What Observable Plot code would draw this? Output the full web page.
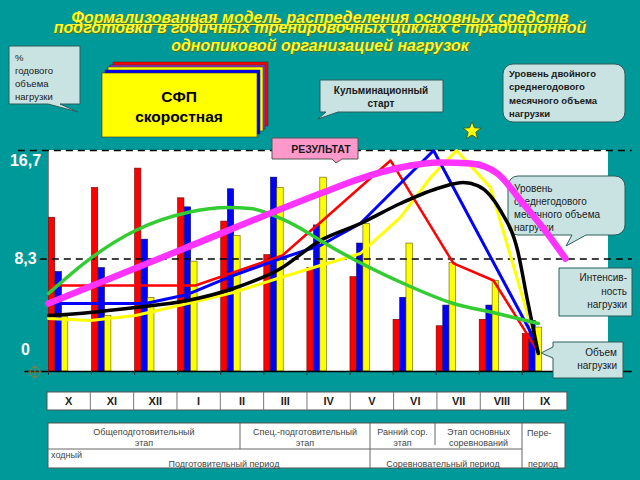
<!DOCTYPE html>
<html><head><meta charset="utf-8">
<script src="https://cdn.jsdelivr.net/npm/d3@7"></script>
<script src="https://cdn.jsdelivr.net/npm/@observablehq/plot@0.6"></script>
<style>
body{margin:0;background:#009999;}
#root{position:relative;width:640px;height:480px;background:#009999;overflow:hidden;font-family:"Liberation Sans",Arial,sans-serif;}
.abs{position:absolute;left:0;top:0;}
.ttl{position:absolute;left:0;width:640px;text-align:center;font-weight:bold;font-style:italic;font-size:16px;line-height:18px;color:#ffff33;text-shadow:1px 1px 0 #5f6f00;white-space:nowrap;}
</style></head><body>
<div id="root">
  <div id="plotbg" style="position:absolute;background:#fff;"></div>
  <svg id="under" class="abs" width="640" height="480"></svg>
  <div id="chart" class="abs"></div>
  <svg id="over" class="abs" width="640" height="480"></svg>
  <div class="ttl" style="top:9px;text-decoration:underline;">Формализованная модель распределения основных средств</div>
  <div class="ttl" style="top:19px;">подготовки в годичных тренировочных циклах с традиционной</div>
  <div class="ttl" style="top:37px;">однопиковой организацией нагрузок</div>
</div>
<script>
// ---------- data ----------
const months = ["X","XI","XII","I","II","III","IV","V","VI","VII","VIII","IX"];
const redBars    = [11.5, 13.8, 15.3, 13.0, 11.2, 8.6, 7.6, 6.9, 3.6, 3.1, 3.6, 2.5];
const blueBars   = [7.3, 7.6, 9.8, 12.3, 13.7, 14.6, 10.9, 9.5, 5.3, 4.7, 4.7, 3.5];
const yellowBars = [3.8, 3.9, 5.3, 8.1, 10.1, 13.8, 14.6, 11.0, 9.5, 8.0, 6.6, 3.0];

const redLineX = [0.15, 3.41, 4.29, 5.43, 6.01, 6.31, 7.94, 9.40, 10.33, 11.35];
const redLineY = [6.25, 6.25, 7.26, 8.58, 10.28, 11.13, 15.93, 7.96, 6.64, 1.22];
const blueLineX = [0.16, 2.25, 3.23, 4.29, 5.39, 6.31, 7.24, 8.17, 8.94, 11.26, 11.37];
const blueLineY = [4.86, 4.86, 5.56, 7.03, 8.34, 9.35, 11.05, 14.15, 16.7, 2.23, 1.07];
const yellowLineX = [0, 0.97, 2.02, 3.23, 4.29, 5.39, 6.31, 7.24, 8.17, 8.87, 9.47, 10.26, 11.30];
const yellowLineY = [3.70, 3.55, 3.93, 4.86, 5.71, 6.87, 7.80, 8.73, 11.52, 14.61, 16.7, 13.84, 2.0];
const blackLineX = [0, 0.97, 2.02, 3.23, 4.29, 5.39, 6.31, 7.24, 8.17, 9.10, 9.63, 9.96, 10.49, 10.89, 11.12, 11.37];
const blackLineY = [3.93, 4.17, 4.55, 5.09, 6.02, 7.57, 9.74, 11.05, 12.60, 13.84, 14.22, 13.99, 12.06, 8.96, 5.09, 0.99];
const greenLineX = [0, 0.97, 2.02, 3.23, 4.16, 4.69, 5.39, 6.01, 6.31, 8.24, 9.40, 10.42, 11.37];
const greenLineY = [5.64, 8.34, 10.51, 11.90, 12.29, 12.21, 11.44, 10.36, 9.74, 6.41, 4.86, 4.09, 3.31];
const magentaLineX = [0, 3.15, 6.31, 7.24, 8.17, 9.10, 9.80, 10.42, 10.96, 11.58, 12.0];
const magentaLineY = [4.86, 9.12, 13.37, 14.53, 15.38, 15.77, 15.69, 14.92, 12.83, 10.28, 8.34];

const yTicks = [16.7, 8.3, 0];
const yTickLabels = ["16,7", "8,3", "0"];
const refLevels = [16.7, 8.3];

const stages = [
  ["Общеподготовительный", "этап"],
  ["Спец.-подготовительный", "этап"],
  ["Ранний сор.", "этап"],
  ["Этап основных", "соревнований"]
];
const periods = ["Подготовительный  период", "Соревновательный период", "период"];

// ---------- layout ----------
const W = 640, H = 480;
const M = {left: 48, right: 32, top: 150, bottom: 109};
const Y_MIN = -0.4, Y_MAX = 16.7;
const pb = document.getElementById("plotbg");
Object.assign(pb.style, {left: M.left + "px", top: M.top + "px", width: (W - M.left - M.right) + "px", height: (H - M.top - M.bottom) + "px"});

const rows = months.map((m, i) => ({i, m, red: redBars[i], blue: blueBars[i], yellow: yellowBars[i]}));
const pts = (xs, ys) => xs.map((x, k) => ({x, y: ys[k]}));

const bars = [
  {key: "red", fill: "#ff0000", stroke: "#6a0000", o0: 0.01, o1: 0.155},
  {key: "blue", fill: "#0000ff", stroke: "#00005a", o0: 0.165, o1: 0.31},
  {key: "yellow", fill: "#ffff00", stroke: "#5a5a00", o0: 0.31, o1: 0.46}
];
const lines = [
  {p: pts(yellowLineX, yellowLineY), stroke: "#ffff00", w: 3, curve: "linear"},
  {p: pts(redLineX, redLineY), stroke: "#ff0000", w: 2.5, curve: "linear"},
  {p: pts(blueLineX, blueLineY), stroke: "#0000ff", w: 3, curve: "linear"},
  {p: pts(blackLineX, blackLineY), stroke: "#000000", w: 3.5, curve: "monotone-x"},
  {p: pts(greenLineX, greenLineY), stroke: "#33cc33", w: 3.5, curve: "monotone-x"},
  {p: pts(magentaLineX, magentaLineY), stroke: "#ff33ff", w: 6.5, curve: "monotone-x"}
];
const labelDy = [10, 0, -16];

const chart = Plot.plot({
  width: W, height: H,
  marginLeft: M.left, marginRight: M.right, marginTop: M.top, marginBottom: M.bottom,
  style: {background: "transparent", overflow: "visible"},
  x: {domain: [0, 13], label: null},
  y: {domain: [Y_MIN, Y_MAX], axis: null},
  marks: [
    Plot.ruleX([0], {y1: () => Y_MIN, y2: () => Y_MAX, stroke: "#888", strokeWidth: 1}),
    ...bars.map(b => Plot.rectY(rows, {x1: d => d.i + b.o0, x2: d => d.i + b.o1, y1: () => Y_MIN, y2: b.key, fill: b.fill, stroke: b.stroke, strokeWidth: 0.6})),
    Plot.ruleY([refLevels[0]], {x1: () => -0.7, x2: () => 13.55, stroke: "#000", strokeWidth: 1.6, strokeDasharray: "7,5"}),
    Plot.ruleY([refLevels[1]], {x1: () => -0.19, x2: () => 13.55, stroke: "#000", strokeWidth: 1.6, strokeDasharray: "7,5"}),
    Plot.ruleY([Y_MIN], {x1: () => -0.55, x2: () => 13.55, stroke: "#000", strokeWidth: 1.6}),
    Plot.axisX({ticks: d3.range(0, 14), tickSize: 4, tickFormat: () => "", label: null, stroke: "#333"}),
    ...lines.map(l => Plot.line(l.p, {x: "x", y: "y", stroke: l.stroke, strokeWidth: l.w, curve: l.curve, strokeLinejoin: "round", strokeLinecap: "round"})),
    ...yTicks.map((v, k) => Plot.text([v], {y: d => d, text: () => yTickLabels[k], frameAnchor: "left", dx: -23, dy: labelDy[k], textAnchor: "middle", fill: "#fff", fontSize: 16, fontWeight: "bold", fontFamily: "Liberation Sans, Arial, sans-serif"}))
  ]
});
document.getElementById("chart").appendChild(chart);
const xs = chart.scale("x");

// ---------- decorations ----------
function calloutPath(x, y, w, h, r, tail) {
  let d = `M${x + r},${y} H${x + w - r} A${r},${r} 0 0 1 ${x + w},${y + r} V${y + h - r} A${r},${r} 0 0 1 ${x + w - r},${y + h}`;
  if (tail && tail.side === "bottom") d += ` H${tail.b} L${tail.tx},${tail.ty} L${tail.a},${y + h}`;
  d += ` H${x + r} A${r},${r} 0 0 1 ${x},${y + h - r}`;
  if (tail && tail.side === "left") d += ` V${tail.b} L${tail.tx},${tail.ty} L${x},${tail.a}`;
  d += ` V${y + r} A${r},${r} 0 0 1 ${x + r},${y} Z`;
  return d;
}
const FONT = "Liberation Sans, Arial, sans-serif";
const CALL_FILL = "#c9e3e3", CALL_STROKE = "#2d5c5c";
function addCallout(svg, box, lines, opt) {
  const g = svg.append("g");
  g.append("path").attr("d", calloutPath(box.x, box.y, box.w, box.h, box.r || 0, box.tail))
    .attr("fill", opt.fill || CALL_FILL).attr("stroke", opt.stroke || CALL_STROKE).attr("stroke-width", 1);
  const t = g.append("text").attr("font-family", FONT).attr("font-size", opt.size).attr("font-weight", opt.weight || "normal")
    .attr("fill", opt.color || "#1a1a1a").attr("text-anchor", opt.anchor || "start");
  lines.forEach((s, k) => t.append("tspan").attr("x", opt.tx).attr("y", opt.ty + k * opt.lh).text(s));
}

const under = d3.select("#under");
addCallout(under, {x: 508, y: 176, w: 117, h: 59, r: 10, tail: {side: "bottom", a: 572, b: 586, tx: 566, ty: 246}},
  ["Уровень", "среднегодового", "месячного объема", "нагрузки"], {size: 10, tx: 514, ty: 192, lh: 13});

const over = d3.select("#over");
// percentage callout
addCallout(over, {x: 9, y: 46, w: 71, h: 58, tail: {side: "bottom", a: 48, b: 60, tx: 78, ty: 112}},
  ["%", "годового", "объема", "нагрузки"], {size: 9.5, tx: 15, ty: 61, lh: 13});
// SFP stacked box
[[11, -11, "#ff0000"], [8, -8, "#9933cc"], [6, -6, "#ffff00"], [3, -3, "#0000ff"], [0, 0, "#ffff00"]].forEach(([dx, dy, c]) => {
  over.append("rect").attr("x", 102 + dx).attr("y", 73 + dy).attr("width", 155).attr("height", 64)
    .attr("fill", c).attr("stroke", "#333").attr("stroke-width", 0.6);
});
over.append("text").attr("x", 179).attr("y", 102).attr("text-anchor", "middle").attr("font-family", FONT)
  .attr("font-size", 15.5).attr("font-weight", "bold").text("СФП");
over.append("text").attr("x", 179).attr("y", 122).attr("text-anchor", "middle").attr("font-family", FONT)
  .attr("font-size", 15.5).attr("font-weight", "bold").text("скоростная");
// culmination
addCallout(over, {x: 320, y: 80, w: 123, h: 32, tail: {side: "bottom", a: 326, b: 338, tx: 318, ty: 119}},
  ["Кульминационный", "старт"], {size: 10, weight: "bold", anchor: "middle", tx: 381, ty: 94, lh: 12.5});
// double level
addCallout(over, {x: 503, y: 64, w: 122, h: 58, r: 10},
  ["Уровень двойного", "среднегодового", "месячного объема", "нагрузки"], {size: 9.5, weight: "bold", tx: 509, ty: 77, lh: 13.3});
// intensity
addCallout(over, {x: 559, y: 268, w: 73, h: 48},
  ["Интенсив-", "ность", "нагрузки"], {size: 10, anchor: "end", tx: 627, ty: 281, lh: 13.5});
// volume
addCallout(over, {x: 553, y: 342, w: 70, h: 36, tail: {side: "left", a: 347, b: 358, tx: 541, ty: 353}},
  ["Объем", "нагрузки"], {size: 10, anchor: "end", tx: 617, ty: 356, lh: 12.5});
// result
addCallout(over, {x: 272, y: 138, w: 86, h: 21, tail: {side: "bottom", a: 332, b: 342, tx: 336, ty: 163}},
  ["РЕЗУЛЬТАТ"], {size: 10.5, weight: "bold", anchor: "middle", fill: "#ff99cc", stroke: "#555", tx: 321, ty: 153, lh: 0});
// star
const star = d3.range(10).map(k => {
  const a = -Math.PI / 2 + k * Math.PI / 5, r = k % 2 ? 4 : 9.5;
  return [472 + r * Math.cos(a), 131 + r * Math.sin(a)];
});
over.append("polygon").attr("points", star.map(p => p.join(",")).join(" ")).attr("fill", "#ffff00").attr("stroke", "#336633").attr("stroke-width", 1);
// small target icon
over.append("circle").attr("cx", 35).attr("cy", 372).attr("r", 5).attr("fill", "none").attr("stroke", "#9a7a3a").attr("stroke-width", 1);
over.append("path").attr("d", "M28,372H42M35,365V379").attr("stroke", "#9a7a3a").attr("stroke-width", 0.8);

// month row (aligned with x scale)
const mTop = 392, mH = 18;
const x0 = xs.apply(0) - 1, x12 = xs.apply(12) + 2;
over.append("rect").attr("x", x0).attr("y", mTop).attr("width", x12 - x0).attr("height", mH).attr("fill", "#fff").attr("stroke", "#555");
months.forEach((m, i) => {
  const a = x0 + (x12 - x0) * i / 12, b = x0 + (x12 - x0) * (i + 1) / 12;
  if (i > 0) over.append("line").attr("x1", a).attr("x2", a).attr("y1", mTop).attr("y2", mTop + mH).attr("stroke", "#777");
  over.append("text").attr("x", (a + b) / 2).attr("y", mTop + 13).attr("text-anchor", "middle").attr("font-family", FONT)
    .attr("font-size", 11).attr("font-weight", "bold").attr("fill", "#222").text(m);
});

// period table
const T = {x: 48, y: 423, w: 517, h: 45, mid: 449};
const cols = [48, 240, 370, 435, 522];
over.append("rect").attr("x", T.x).attr("y", T.y).attr("width", T.w).attr("height", T.h).attr("fill", "#fff").attr("stroke", "#555");
over.append("line").attr("x1", T.x).attr("x2", cols[4]).attr("y1", T.mid).attr("y2", T.mid).attr("stroke", "#666");
[[cols[1], T.y, T.mid], [cols[2], T.y, T.y + T.h], [cols[3], T.y, T.mid - 4], [cols[4], T.y, T.y + T.h]].forEach(([x, y1, y2]) =>
  over.append("line").attr("x1", x).attr("x2", x).attr("y1", y1).attr("y2", y2).attr("stroke", "#666"));
const small = (x, y, s, anchor) => over.append("text").attr("x", x).attr("y", y).attr("text-anchor", anchor || "middle")
  .attr("font-family", FONT).attr("font-size", 9).attr("fill", "#444").text(s);
stages.forEach((st, k) => {
  const cx = (cols[k] + cols[k + 1]) / 2;
  small(cx, 435, st[0]); small(cx, 446, st[1]);
});
small(527, 436, "Пере-", "start");
small(51, 458, "ходный", "start");
small(224, 467, periods[0]);
small(443, 467, periods[1]);
small(543, 467, periods[2]);
</script>
</body></html>
